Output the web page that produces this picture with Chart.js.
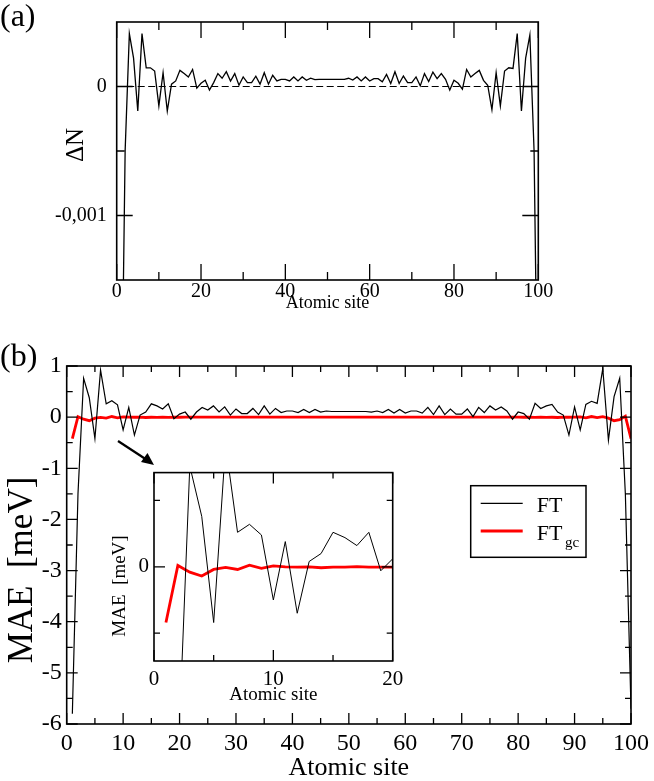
<!DOCTYPE html>
<html>
<head>
<meta charset="utf-8">
<script src="https://cdn.jsdelivr.net/npm/chart.js@4.4.0/dist/chart.umd.min.js"></script>
<style>
  html, body { margin: 0; padding: 0; background: #fff; }
  #wrap { position: relative; width: 654px; height: 781px; overflow: hidden; }
  #wrap canvas { position: absolute; }
</style>
</head>
<body>
<div id="wrap">
  <canvas id="chartA" width="654" height="320" style="left:0;top:0"></canvas>
  <canvas id="chartB" width="654" height="461" style="left:0;top:320px"></canvas>
  <canvas id="chartC" width="320" height="255" style="left:100px;top:455px"></canvas>
</div>
<script>
// ========================= DATA
const sites = Array.from({length: 100}, (_, i) => i + 1)

// panel (a) : charge difference per site
const deltaN = [
  -0.003, -0.0005, 0.00041, 0.00022, -0.00019, 0.00041, 0.000145, 0.000145, 0.00012, -0.00015,
  0.000107, -0.00019, 0.000018, 0.000043, 0.000125, 0.0001, 0.000074, 0.000132, -0.000013, 0.000025,
  0.000048, -0.000028, 0.00003, 0.0001, 0.000064, 0.000115, 0.000043, 0.0001, 0.00001, 0.000074,
  0.00003, 0.00003, 0.00008, 0.000018, 0.000107, 0.000018, 0.000087, 0.000043, 0.000056, 0.000056,
  0.000043, 0.000074, 0.000043, 0.000074, 0.000048, 0.000064, 0.000053, 0.000056, 0.000056, 0.000056,
  0.000056, 0.000056, 0.000056, 0.000056, 0.000064, 0.00005, 0.000074, 0.000043, 0.000074, 0.000043,
  0.000061, 0.000061, 0.000036, 0.000094, 0.000023, 0.000115, 0.000023, 0.000081, 0.00003, 0.00003,
  0.000074, 0.000005, 0.0001, 0.000038, 0.000112, 0.000061, 0.0001, 0.000056, -0.000028, 0.000048,
  0.000025, -0.00002, 0.000132, 0.000074, 0.0001, 0.000125, 0.000048, 0.00001, -0.00018, 0.000107,
  -0.00015, 0.00012, 0.000145, 0.00014, 0.00041, -0.00019, 0.00022, 0.0004, -0.0005, -0.003
]

// panel (b) : MAE per site [meV]
const maeFT = [
  -5.8, -1.5, 0.76, 0.38, -0.42, 0.92, 0.26, 0.32, 0.24, -0.25,
  0.19, -0.35, 0.04, 0.1, 0.26, 0.22, 0.16, 0.26, -0.03, 0.06,
  0.1, -0.04, 0.1, 0.19, 0.14, 0.22, 0.1, 0.2, 0.04, 0.16,
  0.07, 0.07, 0.17, 0.05, 0.22, 0.06, 0.17, 0.09, 0.12, 0.12,
  0.09, 0.15, 0.09, 0.15, 0.1, 0.12, 0.11, 0.11, 0.11, 0.11,
  0.11, 0.11, 0.11, 0.1, 0.12, 0.09, 0.15, 0.08, 0.15, 0.08,
  0.12, 0.12, 0.08, 0.19, 0.05, 0.22, 0.05, 0.16, 0.06, 0.06,
  0.16, 0.01, 0.19, 0.09, 0.22, 0.14, 0.2, 0.12, -0.04, 0.1,
  0.07, -0.04, 0.27, 0.17, 0.22, 0.25, 0.1, 0.04, -0.35, 0.2,
  -0.25, 0.25, 0.31, 0.27, 0.95, -0.45, 0.4, 0.76, -1.5, -5.7
]
const maeFTgc = [
  -0.42, 0.01, -0.04, -0.07, -0.02, -0.005, -0.02, 0.012, -0.012, 0.007,
  0, -0.002, 0, -0.007, -0.002, -0.003, 0.002, -0.003, -0.002, -0.002,
  0, 0, 0, 0, 0, 0, 0, 0, 0, 0,
  0, 0, 0, 0, 0, 0, 0, 0, 0, 0,
  0, 0, 0, 0, 0, 0, 0, 0, 0, 0,
  0, 0, 0, 0, 0, 0, 0, 0, 0, 0,
  0, 0, 0, 0, 0, 0, 0, 0, 0, 0,
  0, 0, 0, 0, 0, 0, 0, 0, 0, 0,
  -0.002, -0.002, -0.003, 0.002, -0.003, -0.002, -0.007, 0, -0.002, 0,
  0.007, -0.012, 0.012, -0.01, 0.01, -0.02, -0.07, -0.05, 0.02, -0.42
]

// tick values
const ticksA_x = [0, 20, 40, 60, 80, 100]
const minorA_x = [10, 30, 50, 70, 90]
const ticksA_y = [-0.001, 0]
const minorA_y = [-0.0005]
const ticksB_x = [0, 10, 20, 30, 40, 50, 60, 70, 80, 90, 100]
const minorB_x = [5, 15, 25, 35, 45, 55, 65, 75, 85, 95]
const ticksB_y = [-6, -5, -4, -3, -2, -1, 0, 1]
const minorB_y = [-5.5, -4.5, -3.5, -2.5, -1.5, -0.5, 0.5]
const ticksC_x = [0, 10, 20]
const minorC_x = [5, 15]
const ticksC_y = [0]
const minorC_y = [-0.5, 0.5]

const serif = '"Liberation Serif", "DejaVu Serif", serif'
const pts = (xs, ys) => xs.map((x, i) => ({x: x, y: ys[i]}))
const setTicks = vals => scale => { scale.ticks = vals.map(v => ({value: v})) }

// ========================= FRAME + INWARD TICKS
function frame(o) {
  return {
    id: 'frame',
    beforeDatasetsDraw(chart) {
      if (!o.dashZero) return
      const {ctx, chartArea: a, scales: {y}} = chart
      const py = y.getPixelForValue(0)
      ctx.save()
      ctx.setLineDash([7, 3.5])
      ctx.lineWidth = 1.2
      ctx.strokeStyle = '#000'
      ctx.beginPath()
      ctx.moveTo(a.left, py)
      ctx.lineTo(a.right, py)
      ctx.stroke()
      ctx.restore()
    },
    afterDraw(chart) {
      const {ctx, chartArea: a, scales: {x, y}} = chart
      ctx.save()
      ctx.strokeStyle = '#000'
      ctx.lineWidth = 1.3
      ctx.beginPath()
      const xt = (vals, len) => vals.forEach(v => {
        const p = x.getPixelForValue(v)
        ctx.moveTo(p, a.bottom); ctx.lineTo(p, a.bottom - len)
        ctx.moveTo(p, a.top); ctx.lineTo(p, a.top + len)
      })
      const yt = (vals, len) => vals.forEach(v => {
        const p = y.getPixelForValue(v)
        ctx.moveTo(a.left, p); ctx.lineTo(a.left + len, p)
        ctx.moveTo(a.right, p); ctx.lineTo(a.right - len, p)
      })
      xt(o.xMajor, o.major); xt(o.xMinor, o.minor)
      yt(o.yMajor, o.major); yt(o.yMinor, o.minor)
      ctx.stroke()
      ctx.lineWidth = 1.6
      ctx.strokeRect(a.left, a.top, a.width, a.height)
      ctx.restore()
      if (o.extra) o.extra(ctx, chart)
    }
  }
}

function rotText(ctx, txt, x, y, size) {
  ctx.save()
  ctx.translate(x, y)
  ctx.rotate(-Math.PI / 2)
  ctx.font = size + 'px ' + serif
  ctx.fillStyle = '#000'
  ctx.textAlign = 'center'
  ctx.textBaseline = 'middle'
  ctx.fillText(txt, 0, 0)
  ctx.restore()
}

function axes(xMin, xMax, xTicks, yMin, yMax, yTicks, o) {
  return {
    x: {
      type: 'linear', min: xMin, max: xMax,
      grid: {display: false, drawTicks: false}, border: {display: false},
      afterBuildTicks: setTicks(xTicks),
      afterFit: s => { s.height = o.xh },
      ticks: {font: {family: serif, size: o.fs}, color: '#000', padding: o.xpad, maxRotation: 0, autoSkip: false},
      title: {display: true, text: 'Atomic site', color: '#000', font: {family: serif, size: o.ts, lineHeight: 1}, padding: {top: 0, bottom: o.tpad}}
    },
    y: {
      type: 'linear', min: yMin, max: yMax,
      grid: {display: false, drawTicks: false}, border: {display: false},
      afterBuildTicks: setTicks(yTicks),
      afterFit: s => { s.width = o.yw },
      ticks: {font: {family: serif, size: o.fs}, color: '#000', padding: o.ypad, autoSkip: false,
              callback: v => String(v).replace('.', ',')}
    }
  }
}

// ========================= PANEL (a)
new Chart(document.getElementById('chartA'), {
  type: 'line',
  data: {
    datasets: [{
      data: pts(sites, deltaN),
      borderColor: '#000', borderWidth: 1.3, pointRadius: 0, tension: 0, fill: false
    }]
  },
  options: {
    responsive: false, animation: false, events: [],
    layout: {padding: {left: 0, top: 16.7, right: 115.7, bottom: 0}},
    plugins: {legend: {display: false}, tooltip: {enabled: false}},
    scales: axes(0, 100, ticksA_x, -0.0015, 0.0005, ticksA_y,
      {xh: 40, yw: 116.7, fs: 20, ts: 18, xpad: 0, ypad: 10, tpad: 8})
  },
  plugins: [frame({
    xMajor: ticksA_x, xMinor: minorA_x, yMajor: ticksA_y, yMinor: minorA_y, major: 16, minor: 8, dashZero: true,
    extra: (ctx) => {
      ctx.save()
      ctx.fillStyle = '#000'
      ctx.font = '32px ' + serif
      ctx.fillText('(a)', 0, 26)
      ctx.restore()
      rotText(ctx, 'ΔN', 76, 145, 25)
    }
  })]
})

// ========================= PANEL (b)
new Chart(document.getElementById('chartB'), {
  type: 'line',
  data: {
    datasets: [{
      label: 'FT',
      data: pts(sites, maeFT),
      borderColor: '#000', borderWidth: 1.2, pointRadius: 0, tension: 0, fill: false
    }, {
      label: 'FTgc',
      data: pts(sites, maeFTgc),
      borderColor: '#ff0000', borderWidth: 2.8, pointRadius: 0, tension: 0, fill: false
    }]
  },
  options: {
    responsive: false, animation: false, events: [],
    layout: {padding: {left: 0, top: 46, right: 20.7, bottom: 0}},
    plugins: {legend: {display: false}, tooltip: {enabled: false}},
    scales: axes(0, 100, ticksB_x, -6, 1, ticksB_y,
      {xh: 57, yw: 66.7, fs: 24, ts: 26, xpad: 5, ypad: 5, tpad: 0})
  },
  plugins: [frame({
    xMajor: ticksB_x, xMinor: minorB_x, yMajor: ticksB_y, yMinor: minorB_y, major: 11, minor: 6,
    extra: (ctx) => {
      ctx.save()
      ctx.fillStyle = '#000'
      ctx.strokeStyle = '#000'
      ctx.font = '32px ' + serif
      ctx.fillText('(b)', 0, 46)
      // arrow to inset
      ctx.lineWidth = 2.2
      ctx.beginPath()
      ctx.moveTo(118, 121); ctx.lineTo(147, 140)
      ctx.stroke()
      ctx.beginPath()
      ctx.moveTo(154, 145); ctx.lineTo(141, 142); ctx.lineTo(147.5, 133)
      ctx.closePath(); ctx.fill()
      // legend box
      ctx.lineWidth = 1.5
      ctx.strokeRect(470.7, 165.7, 115.3, 71.6)
      ctx.lineWidth = 1.2
      ctx.beginPath(); ctx.moveTo(480.7, 183.3); ctx.lineTo(522.7, 183.3); ctx.stroke()
      ctx.strokeStyle = '#ff0000'; ctx.lineWidth = 3
      ctx.beginPath(); ctx.moveTo(480.7, 211); ctx.lineTo(522.7, 211); ctx.stroke()
      ctx.font = '22px ' + serif
      ctx.fillText('FT', 536.7, 191.7)
      ctx.fillText('FT', 536.7, 220)
      ctx.font = '15px ' + serif
      ctx.fillText('gc', 565, 227)
      ctx.restore()
      rotText(ctx, 'MAE  [meV]', 23, 250, 35)
    }
  })]
})

// ========================= INSET
new Chart(document.getElementById('chartC'), {
  type: 'line',
  data: {
    datasets: [{
      data: pts(sites.slice(0, 20), maeFT.slice(0, 20)),
      borderColor: '#000', borderWidth: 1, pointRadius: 0, tension: 0, fill: false
    }, {
      data: pts(sites.slice(0, 20), maeFTgc.slice(0, 20)),
      borderColor: '#ff0000', borderWidth: 2.8, pointRadius: 0, tension: 0, fill: false
    }]
  },
  options: {
    responsive: false, animation: false, events: [],
    layout: {padding: {left: 0, top: 13.3, right: 27.3, bottom: 0}},
    plugins: {legend: {display: false}, tooltip: {enabled: false}},
    scales: axes(0, 20, ticksC_x, -0.71, 0.71, ticksC_y,
      {xh: 49, yw: 54, fs: 21, ts: 19, xpad: 6, ypad: 5, tpad: 5})
  },
  plugins: [frame({
    xMajor: ticksC_x, xMinor: minorC_x, yMajor: ticksC_y, yMinor: minorC_y, major: 11, minor: 6,
    extra: (ctx) => rotText(ctx, 'MAE  [meV]', 20, 131, 19)
  })]
})
</script>
</body>
</html>
